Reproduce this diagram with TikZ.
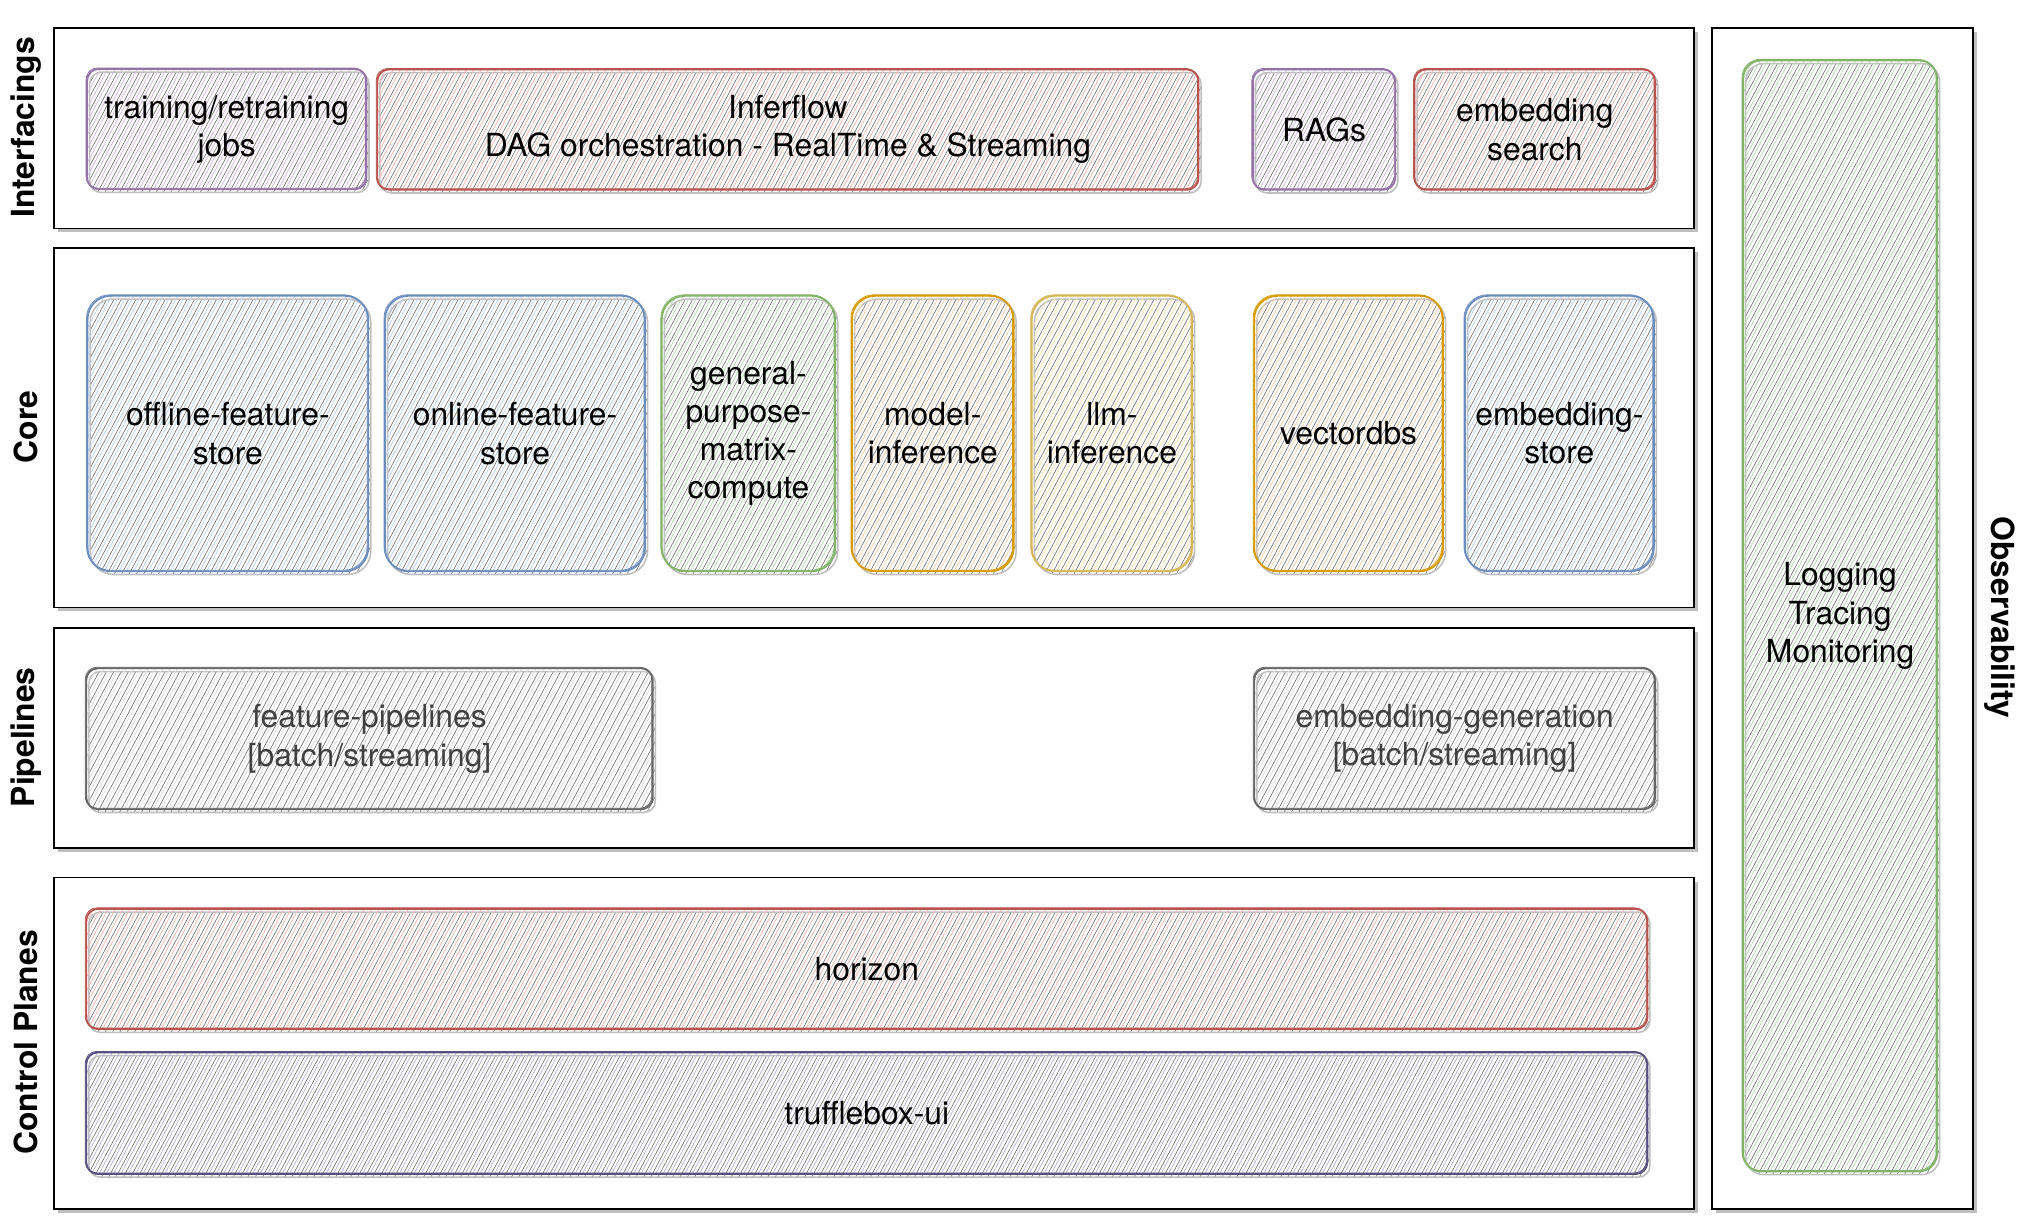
\documentclass[tikz,border=0pt]{standalone}
\usepackage{fontspec}
\setmainfont{TeX Gyre Heros}
\usetikzlibrary{patterns.meta,shadows}

\definecolor{purpleline}{HTML}{9673A6}
\definecolor{purplefill}{HTML}{D2BEDD}
\definecolor{redline}{HTML}{B85450}
\definecolor{redfill}{HTML}{F2B8B4}
\definecolor{blueline}{HTML}{6C8EBF}
\definecolor{bluefill}{HTML}{BED5F3}
\definecolor{greenline}{HTML}{82B366}
\definecolor{greenfill}{HTML}{BBDCB8}
\definecolor{orangeline}{HTML}{D79B00}
\definecolor{orangefill}{HTML}{F9D3AA}
\definecolor{yellowline}{HTML}{D6B656}
\definecolor{yellowfill}{HTML}{F9E5AA}
\definecolor{greyline}{HTML}{666666}
\definecolor{greyfill}{HTML}{E0E0E0}
\definecolor{navyline}{HTML}{56517E}
\definecolor{navyfill}{HTML}{BAB6D6}

\begin{document}
\begin{tikzpicture}[x=1pt,y=-1pt,
	font=\fontsize{24.6}{29.5}\selectfont,
	lane/.style={draw=black, line width=1.2pt, fill=white, anchor=north west, inner sep=0pt,
		drop shadow={shadow xshift=3pt, shadow yshift=-3pt, fill=black!25, opacity=1}},
	lanelabel/.style={font=\fontsize{24.6}{29.5}\selectfont\bfseries, inner sep=0pt},
	comp/.style 2 args={draw=#1, line width=1.4pt, rounded corners=9pt, anchor=north west,
		align=center, inner sep=2pt,
		preaction={draw=black!25, line width=1.2pt, pattern={Lines[angle=62,distance=5pt,line width=0.5pt]},
			pattern color=black!55, transform canvas={shift={(2pt,-2.5pt)}}},
		pattern={Lines[angle=62,distance=5pt,xshift=2.5pt,line width=0.6pt]}, pattern color=#2,
		postaction={draw=#1, line width=0.6pt, transform canvas={shift={(-0.8pt,0.8pt)}}}},
	big/.style={rounded corners=18pt}]

	\useasboundingbox (0,0) rectangle (1568,951);

	% layers
	\node[lane, minimum width=1268pt, minimum height=155pt] (intf) at (41,21) {};
	\node[lane, minimum width=1268pt, minimum height=278pt] (core) at (41,191) {};
	\node[lane, minimum width=1268pt, minimum height=170pt] (pipe) at (41,485) {};
	\node[lane, minimum width=1268pt, minimum height=256pt] (ctrl) at (41,678) {};
	\node[lane, minimum width=202pt, minimum height=913pt] (obs) at (1323,21) {};

	\node[lanelabel, rotate=90] (intflabel) at (20,98.5) {Interfacings};
	\node[lanelabel, rotate=90] (corelabel) at (20,330) {Core};
	\node[lanelabel, rotate=90] (pipelabel) at (20,570) {Pipelines};
	\node[lanelabel, rotate=90] (ctrllabel) at (20,806) {Control Planes};
	\node[lanelabel, rotate=-90] (obslabel) at (1546,477.5) {Observability};

	% interfacings
	\node[comp={purpleline}{purplefill}, minimum width=216pt, minimum height=93pt] (train) at (67,53) {training/retraining\\jobs};
	\node[comp={redline}{redfill}, minimum width=635pt, minimum height=93pt] (inferflow) at (291,53) {Inferflow\\DAG orchestration - RealTime \& Streaming};
	\node[comp={purpleline}{purplefill}, minimum width=110pt, minimum height=93pt] (rags) at (968,53) {RAGs};
	\node[comp={redline}{redfill}, minimum width=186pt, minimum height=93pt] (embsearch) at (1093,53) {embedding\\search};

	% core
	\node[comp={blueline}{bluefill}, big, minimum width=217pt, minimum height=213pt] (offline) at (67,228) {offline-feature-\\store};
	\node[comp={blueline}{bluefill}, big, minimum width=201pt, minimum height=213pt] (online) at (297,228) {online-feature-\\store};
	\node[comp={greenline}{greenfill}, big, minimum width=134pt, minimum height=213pt] (matrix) at (511,228) {general-\\purpose-\\matrix-\\compute};
	\node[comp={orangeline}{orangefill}, big, minimum width=125pt, minimum height=213pt] (modelinf) at (658,228) {model-\\inference};
	\node[comp={yellowline}{yellowfill}, big, minimum width=124pt, minimum height=213pt] (llminf) at (797,228) {llm-\\inference};
	\node[comp={orangeline}{orangefill}, big, minimum width=146pt, minimum height=213pt] (vectordbs) at (969,228) {vectordbs};
	\node[comp={blueline}{bluefill}, big, minimum width=146pt, minimum height=213pt] (embstore) at (1132,228) {embedding-\\store};

	% pipelines
	\node[comp={greyline}{greyfill}, text=black!75, minimum width=438pt, minimum height=109pt] (featpipe) at (66,516) {feature-pipelines\\{[batch/streaming]}};
	\node[comp={greyline}{greyfill}, text=black!75, minimum width=310pt, minimum height=109pt] (embgen) at (969,516) {embedding-generation\\{[batch/streaming]}};

	% control planes
	\node[comp={redline}{redfill}, minimum width=1207pt, minimum height=93pt] (horizon) at (66,702) {horizon};
	\node[comp={navyline}{navyfill}, minimum width=1207pt, minimum height=94pt] (truffle) at (66,813) {trufflebox-ui};

	% observability
	\node[comp={greenline}{greenfill}, rounded corners=14pt, minimum width=150pt, minimum height=859pt] (logging) at (1347,46) {Logging\\Tracing\\Monitoring};
\end{tikzpicture}
\end{document}
